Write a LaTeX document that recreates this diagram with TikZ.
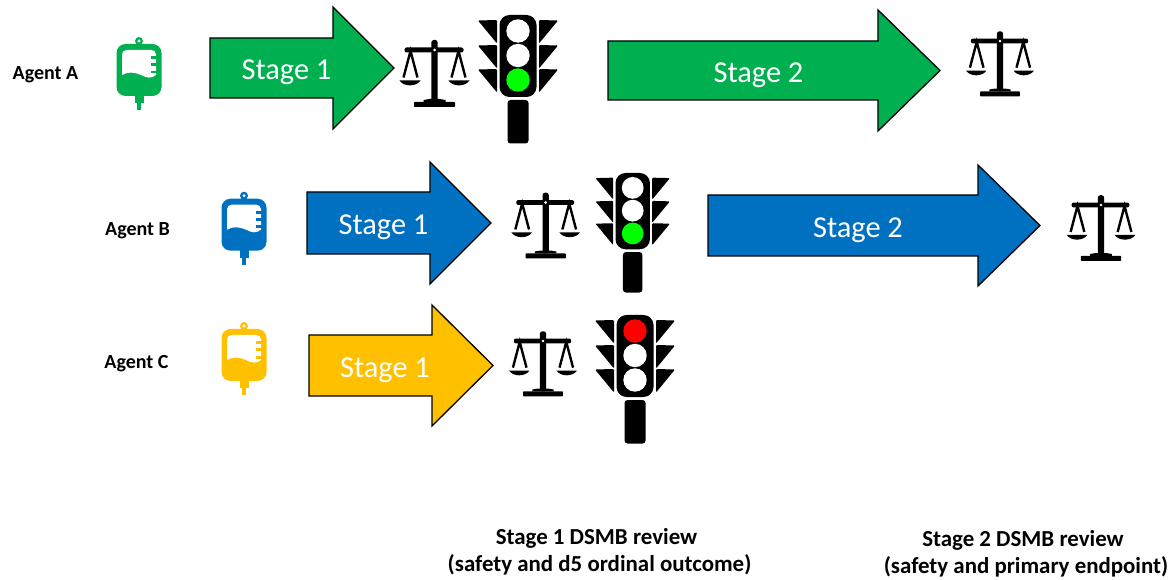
\documentclass[tikz,border=0pt]{standalone}
\usepackage{fontspec}
\setmainfont{Carlito}
\definecolor{agA}{HTML}{00B050}
\definecolor{agB}{HTML}{0070C0}
\definecolor{agC}{HTML}{FFC000}
\definecolor{lampG}{HTML}{00FF00}
\definecolor{lampR}{HTML}{FF0000}
\tikzset{
  x=1pt,y=-1pt,
  stagearrow/.style={draw=black,line width=1.3pt,fill=#1},
  stagetext/.style={text=white,font=\fontsize{30.4}{33}\selectfont,inner sep=0pt},
  agenttext/.style={font=\bfseries\fontsize{20}{22}\selectfont,inner sep=0pt},
  reviewtext/.style={font=\bfseries\fontsize{22.9}{27}\selectfont,align=center,inner sep=0pt},
  pics/scales/.style={code={
    \draw[line width=2.4pt,line cap=butt] (-31,27.5) -- (-24,1) -- (-17,27.5);
    \draw[line width=2.4pt,line cap=butt] (17,27.5) -- (24,1) -- (31,27.5);
    \fill[rounded corners=2pt] (-30,-2.5) rectangle (29,2.5);
    \fill[rounded corners=2.5pt] (-3.2,-10) rectangle (3.2,52);
    \fill (-11,52) -- (-11,50) -- (-5,49) -- (5,49) -- (11,50) -- (11,52) -- cycle;
    \fill[rounded corners=.6pt] (-20.5,52) rectangle (20.5,57);
    \fill[white] (0,0) circle (1.5);
    \fill (-35,30.5) .. controls (-31,37) and (-18,37) .. (-14,30.5) -- cycle;
    \fill (14,30.5) .. controls (18,37) and (31,37) .. (35,30.5) -- cycle;
  }},
  pics/lights/.style n args={3}{code={
    \fill[rounded corners=10pt] (-18.5,0) rectangle (18.5,82);
    \fill[rounded corners=3pt] (-10.5,85) rectangle (10.5,128.5);
    \fill[#1] (0,16) circle (11.7);
    \fill[#2] (0,40.5) circle (11.7);
    \fill[#3] (0,65) circle (11.7);
    \foreach \s in {-1,1}{
      \foreach \t in {5.5,30.5,54.5}{
        \fill[rounded corners=1pt] (\s*40,\t) -- (\s*21,\t-.5) -- (\s*21,\t+23) -- cycle;
      }
    }
  }},
  pics/ivbag/.style={code={
    \fill[#1,even odd rule] (0,3) circle (4) (0,3) circle (1.8);
    \fill[#1,rounded corners=9pt] (-22.5,6) rectangle (22.5,58);
    \fill[#1] (-4.5,56) rectangle (4.5,65);
    \fill[#1] (-2,60) rectangle (2,72);
    \fill[white,rounded corners=4.5pt] (-17,12) rectangle (17,30);
    \fill[white] (-17,25) -- (-17,37) .. controls (-11,33.5) and (-5,34) .. (2,37) .. controls (8,40) and (12,41) .. (17,37) -- (17,25) -- cycle;
    \fill[#1] (11.5,18) rectangle (18,21);
    \fill[#1] (11.5,25.3) rectangle (18,28.3);
    \fill[#1] (11.5,32.7) rectangle (18,35.5);
  }}
}
\newcommand{\bigarrow}[7]{%
  \draw[stagearrow=#7] (#1,#5) -- (#2,#5) -- (#2,#4) -- (#3,{(#4+#6)/2}) -- (#2,#6)
   -- (#2,{#6-(#5-#4)}) -- (#1,{#6-(#5-#4)}) -- cycle;}
\begin{document}
\begin{tikzpicture}
\useasboundingbox (0,0) rectangle (1171,580);
% arrows: x0, xhead, xtip, headtop, shafttop, headbottom, colour
\bigarrow{210}{333}{394}{7}{38}{129}{agA}
\bigarrow{608}{878}{940}{10}{41}{131}{agA}
\bigarrow{307}{430}{491}{162}{192}{284}{agB}
\bigarrow{708}{978}{1040}{165}{195}{286}{agB}
\bigarrow{309}{432}{493}{305}{335}{426}{agC}
\node[stagetext] (a1) at (286.5,72) {Stage 1};
\node[stagetext] (a2) at (758.5,75) {Stage 2};
\node[stagetext] (b1) at (383.5,227) {Stage 1};
\node[stagetext] (b2) at (858,230) {Stage 2};
\node[stagetext] (c1) at (385,370) {Stage 1};
\node[agenttext] (la) at (45.5,75) {Agent A};
\node[agenttext] (lb) at (137.5,230.5) {Agent B};
\node[agenttext] (lc) at (136.5,363.5) {Agent C};
\pic at (139,38) {ivbag=agA};
\pic at (244,192.7) {ivbag=agB};
\pic at (244,323) {ivbag=agC};
\pic at (434.5,50) {scales};
\pic[scale=.97] at (1000,41) {scales};
\pic[scale=.98] at (545.7,202.5) {scales};
\pic[scale=.98] at (1101,205) {scales};
\pic[scale=.97] at (543,341) {scales};
\pic at (518,15) {lights={white}{white}{lampG}};
\pic[scale=.93] at (632.7,173) {lights={white}{white}{lampG}};
\pic at (635,315) {lights={lampR}{white}{white}};
\node[reviewtext] (r1) at (599.5,552) {Stage 1 DSMB review\hspace*{6pt}\\(safety and d5 ordinal outcome)};
\node[reviewtext] (r2) at (1026,554) {Stage 2 DSMB review\hspace*{6pt}\\(safety and primary endpoint)};
\end{tikzpicture}
\end{document}
